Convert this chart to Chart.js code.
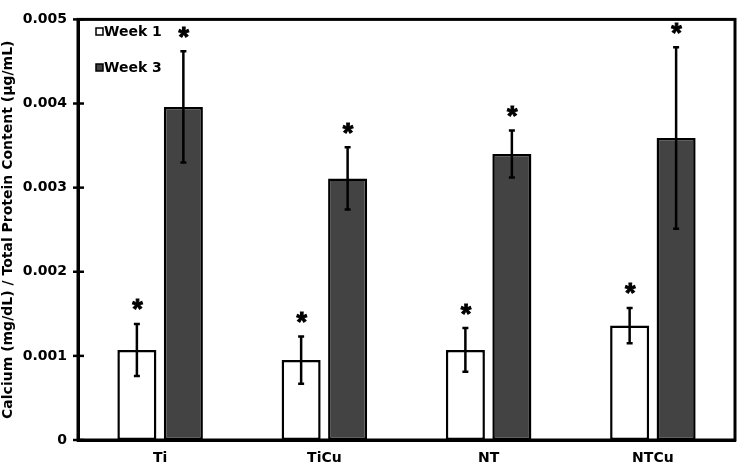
<!DOCTYPE html>
<html>
<head>
<meta charset="utf-8">
<script src="https://cdn.jsdelivr.net/npm/chart.js@4"></script>
<style>
  html, body { margin: 0; padding: 0; background: #fff; }
  #wrap { width: 741px; height: 469px; }
</style>
</head>
<body>
<div id="wrap"><canvas id="chart"></canvas></div>
<script>
// data
var categories = ['Ti', 'TiCu', 'NT', 'NTCu'];
var week1 = [0.00107, 0.00095, 0.00107, 0.00136];
var week1Err = [0.00031, 0.00028, 0.00026, 0.00021];
var week3 = [0.00396, 0.00311, 0.00340, 0.00359];
var week3Err = [0.00066, 0.00037, 0.00028, 0.00108];
var yTicks = [0, 0.001, 0.002, 0.003, 0.004, 0.005];

var FONT = '"DejaVu Sans", "Liberation Sans", Arial, sans-serif';
var errors = [week1Err, week3Err];

// error bars, asterisks, frame, inside legend
var extras = {
    id: 'extras',
    afterDatasetsDraw: function (chart) {
        var ctx = chart.ctx;
        var y = chart.scales.y;
        var area = chart.chartArea;
        ctx.save();

        chart.data.datasets.forEach(function (ds, di) {
            var meta = chart.getDatasetMeta(di);
            meta.data.forEach(function (bar, i) {
                var v = ds.data[i], e = errors[di][i];
                var top = y.getPixelForValue(v + e);
                var bot = y.getPixelForValue(v - e);
                ctx.strokeStyle = '#000';
                ctx.lineWidth = 2.5;
                ctx.beginPath();
                ctx.moveTo(bar.x, top); ctx.lineTo(bar.x, bot);
                ctx.moveTo(bar.x - 3, top); ctx.lineTo(bar.x + 3, top);
                ctx.moveTo(bar.x - 3, bot); ctx.lineTo(bar.x + 3, bot);
                ctx.stroke();

                // asterisk
                ctx.font = 'bold 27px "Liberation Sans", Arial, sans-serif';
                ctx.fillStyle = '#000';
                ctx.textAlign = 'center';
                ctx.textBaseline = 'alphabetic';
                var m = ctx.measureText('*');
                var mid = (m.actualBoundingBoxAscent - m.actualBoundingBoxDescent) / 2;
                ctx.lineWidth = 1;
                ctx.fillText('*', bar.x + 0.5, top - 19 + mid);
                ctx.strokeText('*', bar.x + 0.5, top - 19 + mid);
            });
        });

        // frame
        ctx.lineWidth = 3;
        ctx.strokeRect(area.left, area.top, area.right - area.left, area.bottom - area.top);

        // y tick marks crossing the axis
        ctx.lineWidth = 2.5;
        yTicks.forEach(function (t) {
            var py = y.getPixelForValue(t);
            ctx.beginPath();
            ctx.moveTo(area.left - 5, py);
            ctx.lineTo(area.left + 6, py);
            ctx.stroke();
        });

        // legend inside plot
        ctx.font = 'bold 14px ' + FONT;
        ctx.textAlign = 'left';
        ctx.textBaseline = 'middle';
        chart.data.datasets.forEach(function (ds, di) {
            var cy = di === 0 ? 31.5 : 67.5;
            ctx.fillStyle = ds.backgroundColor;
            ctx.fillRect(96, cy - 3.5, 7, 7);
            ctx.lineWidth = 1.5;
            ctx.strokeRect(96, cy - 3.5, 7, 7);
            ctx.fillStyle = '#000';
            ctx.fillText(ds.label, 104, cy + 1);
        });

        ctx.restore();
    }
};

var chart = new Chart(document.getElementById('chart').getContext('2d'), {
    type: 'bar',
    data: {
        labels: categories,
        datasets: [{
            label: 'Week 1',
            data: week1,
            backgroundColor: '#ffffff',
            borderColor: '#000000',
            borderWidth: 2.5,
            borderSkipped: false
        }, {
            label: 'Week 3',
            data: week3,
            backgroundColor: '#434343',
            borderColor: '#000000',
            borderWidth: 2.5,
            borderSkipped: false
        }]
    },
    options: {
        responsive: true,
        maintainAspectRatio: false,
        animation: false,
        devicePixelRatio: 1,
        layout: { padding: { left: 0, right: 6, top: 9, bottom: 0 } },
        datasets: {
            bar: { categoryPercentage: 0.566, barPercentage: 0.84 }
        },
        scales: {
            x: {
                grid: { display: false, drawTicks: false },
                border: { display: true, color: '#000', width: 3 },
                ticks: {
                    color: '#000',
                    padding: 10,
                    font: { family: FONT, size: 14, weight: 'bold' }
                },
                afterFit: function (scale) { scale.height = 29; }
            },
            y: {
                min: 0,
                max: 0.005,
                grid: { display: false, drawTicks: false },
                border: { display: true, color: '#000', width: 3 },
                afterBuildTicks: function (scale) {
                    scale.ticks = yTicks.map(function (v) { return { value: v }; });
                },
                ticks: {
                    color: '#000',
                    padding: 11,
                    font: { family: FONT, size: 14, weight: 'bold' },
                    callback: function (v) { return v === 0 ? '0' : v.toFixed(3); }
                },
                title: {
                    display: true,
                    text: 'Calcium (mg/dL) / Total Protein Content (µg/mL)',
                    color: '#000',
                    padding: 0,
                    font: { family: FONT, size: 14, weight: 'bold' }
                },
                afterFit: function (scale) { scale.width = 78; }
            }
        },
        plugins: {
            legend: { display: false },
            tooltip: { enabled: false }
        }
    },
    plugins: [extras]
});
</script>
</body>
</html>
